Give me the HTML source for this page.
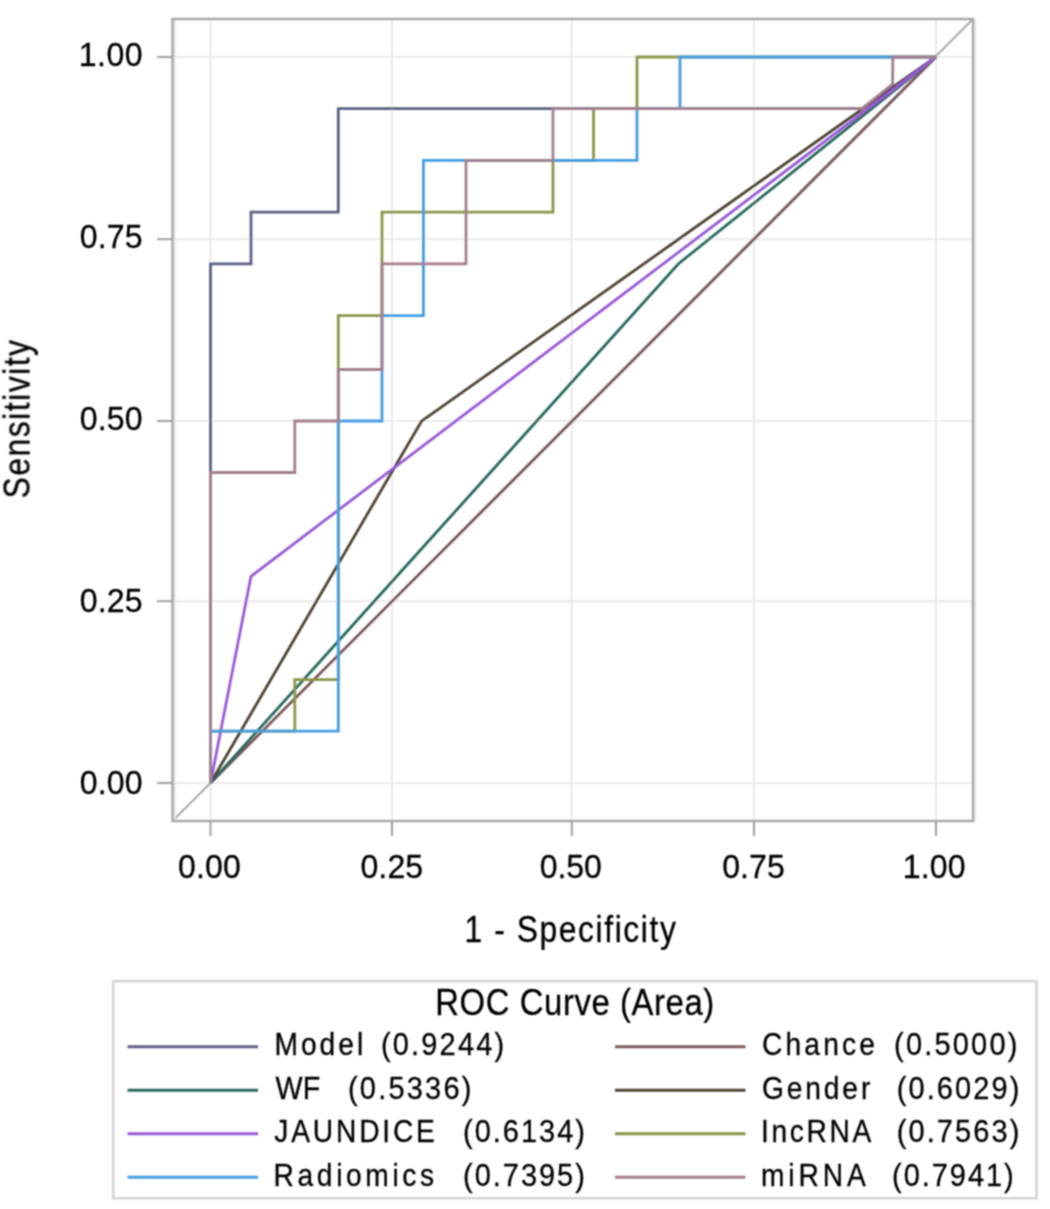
<!DOCTYPE html>
<html><head><meta charset="utf-8"><style>
html,body{margin:0;padding:0;background:#fff;}
svg{display:block;}

text{font-family:"Liberation Sans",sans-serif;fill:#000;stroke:#000;stroke-width:0.3px;}
</style></head><body><svg width="1050" height="1209" viewBox="0 0 1050 1209">
<defs><filter id="bl" x="0" y="0" width="1050" height="1209" filterUnits="userSpaceOnUse"><feConvolveMatrix order="3" kernelMatrix="1 2 1 2 4 2 1 2 1" edgeMode="duplicate" preserveAlpha="false"/></filter></defs>
<rect x="0" y="0" width="1050" height="1209" fill="#fff"/>
<g filter="url(#bl)">
<g stroke="#ebebeb" stroke-width="2.2"><line x1="210.5" y1="19" x2="210.5" y2="821"/><line x1="392" y1="19" x2="392" y2="821"/><line x1="571.8" y1="19" x2="571.8" y2="821"/><line x1="754" y1="19" x2="754" y2="821"/><line x1="936" y1="19" x2="936" y2="821"/><line x1="172.5" y1="783" x2="973" y2="783"/><line x1="172.5" y1="601.2" x2="973" y2="601.2"/><line x1="172.5" y1="421.0" x2="973" y2="421.0"/><line x1="172.5" y1="239.2" x2="973" y2="239.2"/><line x1="172.5" y1="57" x2="973" y2="57"/></g>
<line x1="172.5" y1="821" x2="973" y2="19" stroke="#a8a8a8" stroke-width="2"/>
<g fill="none" stroke-width="2.8" stroke-linejoin="miter"><polyline points="210.5,783 210.5,263.9 251,263.9 251,212.2 338.3,212.2 338.3,108.7 862,108.7 936,57" stroke="#5c6184"/><polyline points="210.5,783 936,57" stroke="#7c5a5c"/><polyline points="210.5,783 678.5,263.7 936,57" stroke="#27695d"/><polyline points="210.5,783 421.5,421.2 936,57" stroke="#4d4433"/><polyline points="210.5,783 251,576.3 936,57" stroke="#985ad8"/><polyline points="210.5,783 210.5,731.1 294.8,731.1 294.8,679.6 338.3,679.6 338.3,315.7 382,315.7 382,212.2 553,212.2 553,160.3 593.5,160.3 593.5,108.7 637,108.7 637,57 936,57" stroke="#8a974a"/><polyline points="210.5,783 210.5,731.1 338.3,731.1 338.3,421 382,421 382,315.7 423.4,315.7 423.4,160.3 637,160.3 637,108.7 680,108.7 680,57 936,57" stroke="#459de2"/><polyline points="210.5,783 210.5,472.5 294.8,472.5 294.8,421 338.3,421 338.3,369.5 382,369.5 382,263.9 466,263.9 466,160.3 553,160.3 553,108.7 862,108.7 892.6,84 892.8,57 936,57" stroke="#a47f8e"/></g>
<line x1="174.8" y1="19" x2="174.8" y2="821" stroke="#e6e6e6" stroke-width="2"/><line x1="975.3" y1="19" x2="975.3" y2="821" stroke="#e6e6e6" stroke-width="2"/>
<rect x="172.5" y="19" width="800.5" height="802" fill="none" stroke="#a9a9a9" stroke-width="2.5"/>
<g stroke="#a0a0a0" stroke-width="2"><line x1="210.5" y1="821" x2="210.5" y2="836"/><line x1="392" y1="821" x2="392" y2="836"/><line x1="571.8" y1="821" x2="571.8" y2="836"/><line x1="754" y1="821" x2="754" y2="836"/><line x1="936" y1="821" x2="936" y2="836"/><line x1="157" y1="783" x2="172.5" y2="783"/><line x1="157" y1="601.2" x2="172.5" y2="601.2"/><line x1="157" y1="421.0" x2="172.5" y2="421.0"/><line x1="157" y1="239.2" x2="172.5" y2="239.2"/><line x1="157" y1="57" x2="172.5" y2="57"/></g>
<text transform="translate(78.80 66.40) scale(0.95 1)" font-size="33.8" textLength="67.05" lengthAdjust="spacing">1.00</text>
<text transform="translate(79.80 247.50) scale(0.95 1)" font-size="33.8" textLength="66.00" lengthAdjust="spacing">0.75</text>
<text transform="translate(79.80 430.20) scale(0.95 1)" font-size="33.8" textLength="66.00" lengthAdjust="spacing">0.50</text>
<text transform="translate(79.80 612.30) scale(0.95 1)" font-size="33.8" textLength="66.00" lengthAdjust="spacing">0.25</text>
<text transform="translate(79.80 793.70) scale(0.95 1)" font-size="33.8" textLength="66.00" lengthAdjust="spacing">0.00</text>
<text transform="translate(177.90 878.40) scale(0.95 1)" font-size="33.8" textLength="66.21" lengthAdjust="spacing">0.00</text>
<text transform="translate(360.40 878.40) scale(0.95 1)" font-size="33.8" textLength="66.11" lengthAdjust="spacing">0.25</text>
<text transform="translate(539.70 878.40) scale(0.95 1)" font-size="33.8" textLength="65.37" lengthAdjust="spacing">0.50</text>
<text transform="translate(722.20 878.40) scale(0.95 1)" font-size="33.8" textLength="66.00" lengthAdjust="spacing">0.75</text>
<text transform="translate(902.80 878.40) scale(0.95 1)" font-size="33.8" textLength="66.21" lengthAdjust="spacing">1.00</text>
<text transform="translate(464.50 941.90) scale(0.86 1)" font-size="37" textLength="245.70" lengthAdjust="spacing">1 - Specificity</text>
<text transform="translate(435.30 1014.90) scale(0.9 1)" font-size="36.5" textLength="309.89" lengthAdjust="spacing">ROC Curve (Area)</text>
<text transform="translate(380.90 1055.40) scale(0.9 1)" font-size="32.2" textLength="137.00" lengthAdjust="spacing">(0.9244)</text>
<text transform="translate(894.10 1055.40) scale(0.9 1)" font-size="32.2" textLength="137.00" lengthAdjust="spacing">(0.5000)</text>
<text transform="translate(347.90 1099.10) scale(0.9 1)" font-size="32.2" textLength="137.33" lengthAdjust="spacing">(0.5336)</text>
<text transform="translate(896.70 1099.10) scale(0.9 1)" font-size="32.2" textLength="136.33" lengthAdjust="spacing">(0.6029)</text>
<text transform="translate(463.00 1142.00) scale(0.9 1)" font-size="32.2" textLength="135.56" lengthAdjust="spacing">(0.6134)</text>
<text transform="translate(896.70 1142.00) scale(0.9 1)" font-size="32.2" textLength="136.33" lengthAdjust="spacing">(0.7563)</text>
<text transform="translate(463.00 1185.80) scale(0.9 1)" font-size="32.2" textLength="135.44" lengthAdjust="spacing">(0.7395)</text>
<text transform="translate(892.10 1185.80) scale(0.9 1)" font-size="32.2" textLength="135.11" lengthAdjust="spacing">(0.7941)</text>
<text transform="translate(274.50 1055.40) scale(0.88 1)" font-size="32" textLength="100.80" lengthAdjust="spacing">Model</text>
<text transform="translate(761.90 1055.40) scale(0.88 1)" font-size="32" textLength="128.52" lengthAdjust="spacing">Chance</text>
<text transform="translate(275.60 1099.10) scale(0.88 1)" font-size="32" textLength="50.68" lengthAdjust="spacingAndGlyphs">WF</text>
<text transform="translate(761.90 1099.10) scale(0.88 1)" font-size="32" textLength="123.18" lengthAdjust="spacing">Gender</text>
<text transform="translate(274.30 1142.00) scale(0.88 1)" font-size="32" textLength="182.50" lengthAdjust="spacing">JAUNDICE</text>
<text transform="translate(760.90 1142.00) scale(0.88 1)" font-size="32" textLength="125.57" lengthAdjust="spacing">IncRNA</text>
<text transform="translate(273.60 1185.80) scale(0.88 1)" font-size="32" textLength="182.39" lengthAdjust="spacing">Radiomics</text>
<text transform="translate(760.90 1185.80) scale(0.88 1)" font-size="32" textLength="119.32" lengthAdjust="spacing">miRNA</text>
<text transform="translate(29.5,419.2) rotate(-90) scale(0.86 1)" font-size="37" text-anchor="middle" textLength="184.30" lengthAdjust="spacing">Sensitivity</text>
<rect x="113.2" y="981.2" width="923.3" height="217" fill="none" stroke="#d4d4d4" stroke-width="2.6"/>
<g stroke-width="3.0"><line x1="127.5" y1="1046.8" x2="258.0" y2="1046.8" stroke="#5c6184"/><line x1="615.0" y1="1046.8" x2="745.5" y2="1046.8" stroke="#7c5a5c"/><line x1="127.5" y1="1090.3" x2="258.0" y2="1090.3" stroke="#27695d"/><line x1="615.0" y1="1090.3" x2="745.5" y2="1090.3" stroke="#4d4433"/><line x1="127.5" y1="1133.8" x2="258.0" y2="1133.8" stroke="#985ad8"/><line x1="615.0" y1="1133.8" x2="745.5" y2="1133.8" stroke="#8a974a"/><line x1="127.5" y1="1177.3" x2="258.0" y2="1177.3" stroke="#459de2"/><line x1="615.0" y1="1177.3" x2="745.5" y2="1177.3" stroke="#a47f8e"/></g>
</g>
</svg>
</body></html>
